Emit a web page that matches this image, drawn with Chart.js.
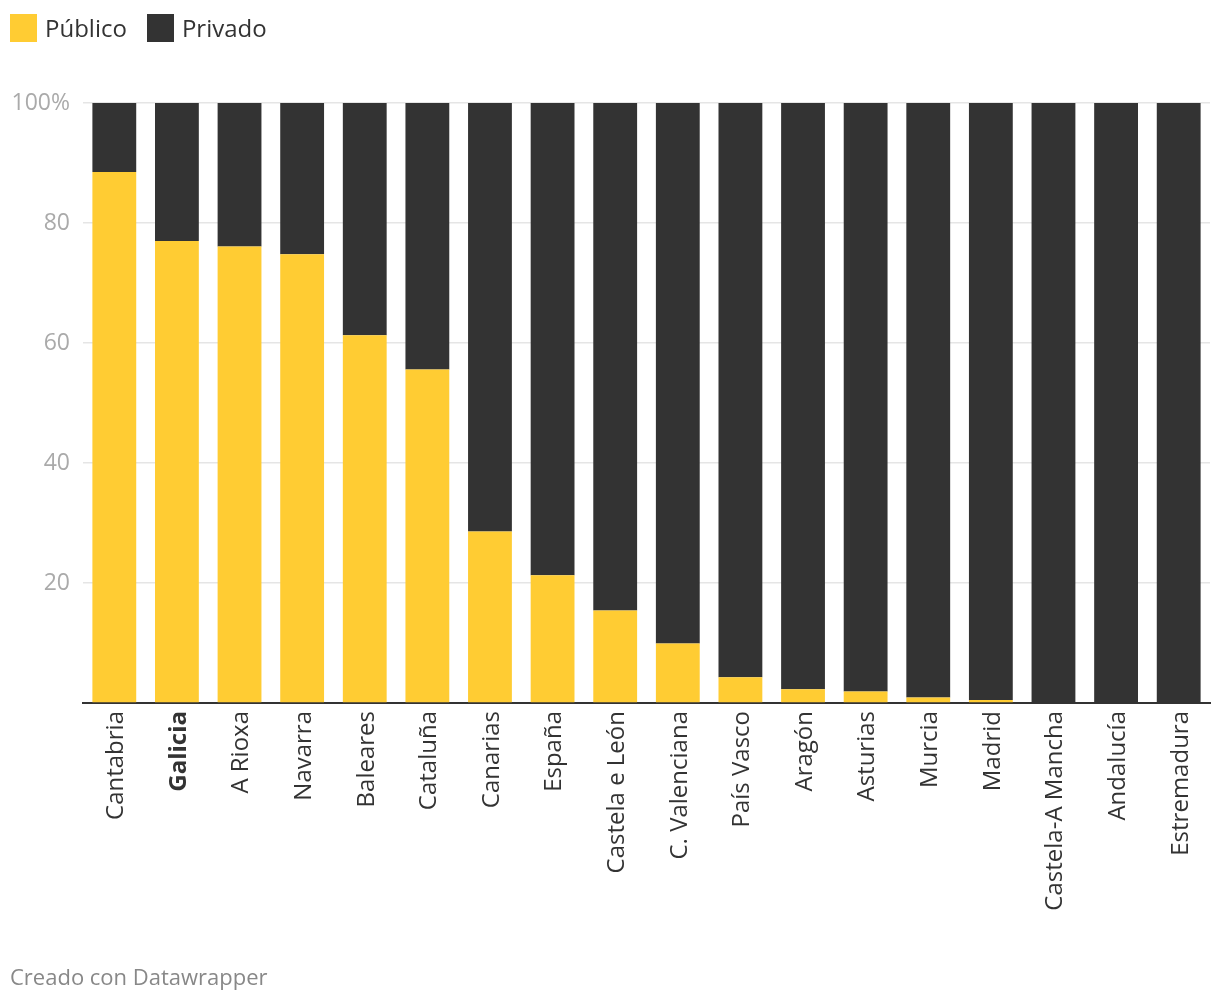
<!DOCTYPE html>
<html>
<head>
<meta charset="utf-8">
<script src="https://cdn.jsdelivr.net/npm/chart.js@4"></script>
<style>
  html, body { margin: 0; padding: 0; background: #fff; }
  body { width: 1220px; height: 1002px; position: relative; overflow: hidden; font-family: "Open Sans", sans-serif; }
  #legend { position: absolute; left: 10px; top: 14px; display: flex; align-items: center; font-size: 24px; line-height: 28px; color: #333; }
  .item { display: flex; align-items: center; margin-right: 20px; }
  .sw { width: 27px; height: 28px; margin-right: 8px; }
  #footer { position: absolute; left: 10px; top: 961px; font-size: 22px; line-height: 30px; color: #888; }
  #wrap { position: absolute; left: 0; top: 0; width: 1220px; height: 1002px; }
</style>
</head>
<body>
<div id="wrap"><canvas id="c" width="1220" height="1002"></canvas></div>
<div id="legend">
  <div class="item"><div class="sw" style="background:#ffcc33"></div><span>Público</span></div>
  <div class="item"><div class="sw" style="background:#333333"></div><span>Privado</span></div>
</div>
<div id="footer">Creado con Datawrapper</div>
<script>
const categories = ["Cantabria","Galicia","A Rioxa","Navarra","Baleares","Cataluña","Canarias","España","Castela e León","C. Valenciana","País Vasco","Aragón","Asturias","Murcia","Madrid","Castela-A Mancha","Andalucía","Estremadura"];
const publico = [88.5, 77.0, 76.1, 74.8, 61.3, 55.6, 28.6, 21.3, 15.4, 9.9, 4.3, 2.3, 1.9, 0.9, 0.5, 0, 0, 0];
const privado = [11.5, 23.0, 23.9, 25.2, 38.7, 44.4, 71.4, 78.7, 84.6, 90.1, 95.7, 97.7, 98.1, 99.1, 99.5, 100, 100, 100];
const yTicks = [0, 20, 40, 60, 80, 100];
const highlight = "Galicia";

Chart.defaults.font.family = '"Open Sans", sans-serif';

new Chart(document.getElementById('c'), {
  type: 'bar',
  data: {
    labels: categories,
    datasets: [
      { label: 'Público', data: publico, backgroundColor: '#ffcc33', barPercentage: 0.7, categoryPercentage: 1.0 },
      { label: 'Privado', data: privado, backgroundColor: '#333333', barPercentage: 0.7, categoryPercentage: 1.0 }
    ]
  },
  options: {
    responsive: false,
    animation: false,
    layout: { padding: { top: 103, right: 10, left: 0, bottom: 0 } },
    plugins: { legend: { display: false }, tooltip: { enabled: false } },
    scales: {
      x: {
        stacked: true,
        grid: { display: false, drawTicks: false },
        border: { display: true, color: '#333333', width: 2 },
        ticks: {
          autoSkip: false, minRotation: 90, maxRotation: 90, padding: 8, labelOffset: 2,
          color: '#333333',
          font: (ctx) => ({ size: 24, weight: categories[ctx.index] === highlight ? 'bold' : 'normal' })
        },
        afterFit: (s) => { s.height = 1002 - 703; }
      },
      y: {
        stacked: true, min: 0, max: 100,
        afterBuildTicks: (s) => { s.ticks = yTicks.map(v => ({ value: v })); },
        grid: {
          drawTicks: false,
          color: (ctx) => ctx.tick && ctx.tick.value === 0 ? 'rgba(0,0,0,0)' : '#e5e5e5',
          lineWidth: 1.5
        },
        border: { display: false },
        ticks: {
          padding: 13, color: '#aaaaaa', font: { size: 23 },
          callback: (v) => v === 100 ? '100%' : (v === 0 ? '' : String(v))
        },
        afterFit: (s) => { s.width = 83; }
      }
    }
  }
});
</script>
</body>
</html>
